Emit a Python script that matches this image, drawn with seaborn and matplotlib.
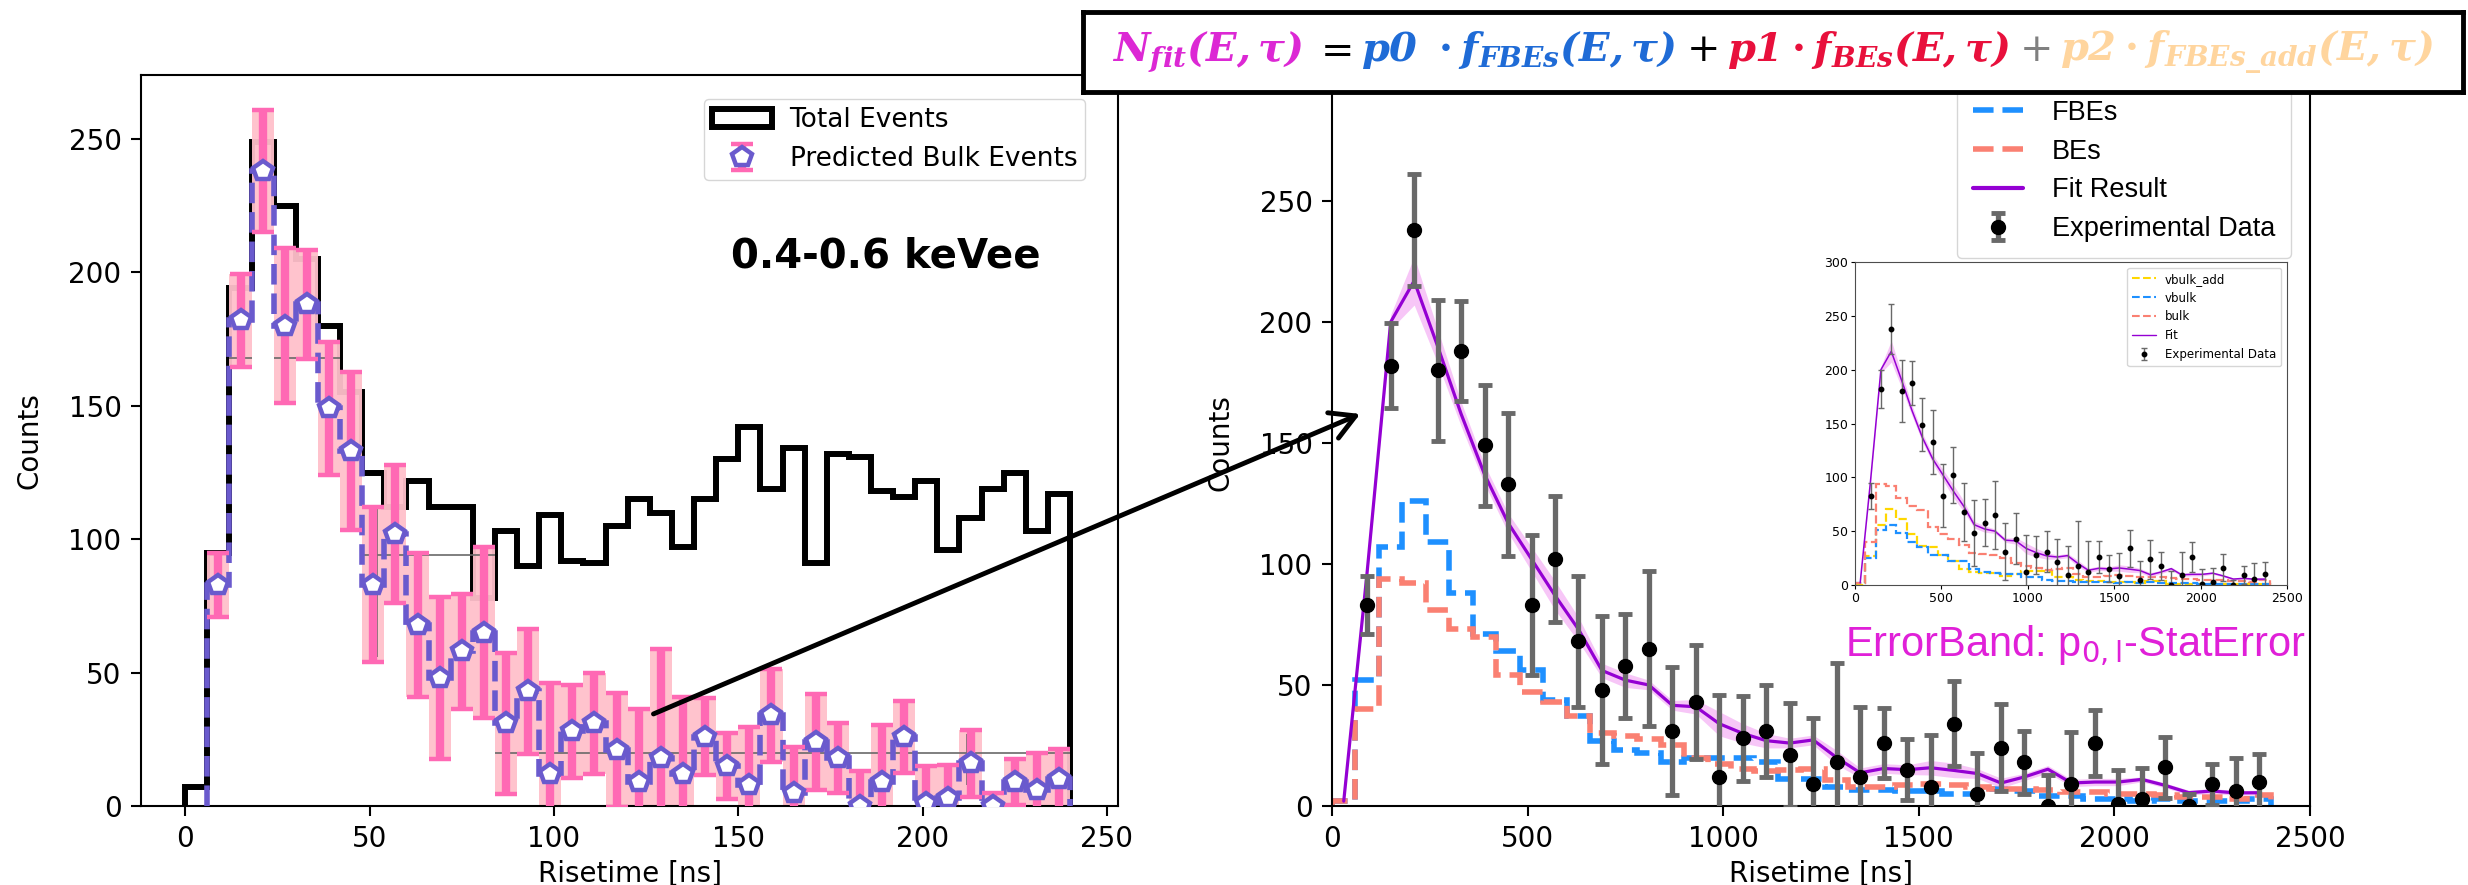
import numpy as np
import matplotlib
matplotlib.use('Agg')
import matplotlib.pyplot as plt
import seaborn as sns
from matplotlib.patches import Patch
from matplotlib.lines import Line2D
from matplotlib.offsetbox import TextArea, HPacker, AnchoredOffsetbox

sns.set_theme(style='ticks')
plt.rcParams['font.family'] = ['DejaVu Sans']
plt.rcParams['mathtext.fontset'] = 'dejavuserif'
plt.rcParams['axes.edgecolor'] = 'black'
plt.rcParams['text.color'] = 'black'
plt.rcParams['axes.labelcolor'] = 'black'
plt.rcParams['xtick.color'] = 'black'
plt.rcParams['ytick.color'] = 'black'

# ---- left panel: 0.4-0.6 keVee, risetime bins of 6
total_edges = np.arange(0, 241, 6)
total_counts = [7, 95, 194, 249, 225, 205, 180, 155, 125, 112, 122, 112, 112, 78, 103,
                90, 109, 92, 91, 105, 115, 110, 97, 115, 130, 142, 119, 134, 91, 132,
                131, 118, 116, 122, 96, 108, 119, 125, 103, 117]

bulk_edges = np.arange(6, 241, 6)
bulk_pred = [83, 182, 238, 180, 188, 149, 133, 83, 102, 68, 48, 58, 65, 31, 43, 12, 28,
             31, 21, 9, 18, 12, 26, 15, 8, 34, 5, 24, 18, 0, 9, 26, 1, 3, 16, 0, 9, 6, 10]
bulk_err = [12, 17.5, 23, 29, 20.5, 25, 29.5, 29, 26, 27, 30.5, 21.5, 32, 26.5, 23.5, 34,
            17.5, 19, 21.5, 27.5, 41, 29, 14.5, 12.5, 21.5, 17.5, 17, 18, 13, 13, 21.5,
            13.5, 14, 12.5, 12.5, 5, 8.5, 14, 11.5]

# thin grey reference levels behind the bulk prediction
coarse_level = [168, 168, 94, 20]
coarse_lo = [12, 24, 48, 84]
coarse_hi = [18, 42, 84, 240]
coarse_vx = [52, 212]
coarse_vlo = [56, 8]
coarse_vhi = [112, 27]

# ---- right panel: fit of the same data, risetime bins of 60 ns
fit_edges = np.arange(0, 2401, 60)
fbes = [2, 52, 107, 126, 109, 88, 71, 64, 56, 44, 37, 27, 23, 22, 18, 20, 20, 20, 18, 11,
        11, 8, 6.5, 6.5, 6, 6, 5, 5, 7, 6, 4, 4, 3, 3, 2, 3, 2, 2, 2, 3]
bes = [2, 40, 94, 92, 81, 73, 70, 54, 47, 43, 37, 30, 29, 27.5, 25, 20, 17.5, 15.4, 14.3,
       15, 15.4, 10.6, 7.8, 7.8, 8.5, 9.2, 8.5, 7.8, 7.2, 7.2, 6.5, 5.8, 5.8, 5, 5, 4.4,
       3.7, 3.7, 3, 4.4]
vbulk = [2, 25, 51, 56, 48, 40, 35, 28, 28, 22, 22, 15, 12, 11, 10, 10, 7, 7, 5, 4, 4, 3,
         3, 3, 3, 2, 3, 2, 3, 2, 2, 2, 2, 1, 1, 1, 1, 1, 1, 1]
vbulk_add = [0, 27, 56, 71, 61, 47, 36, 35, 28, 22, 15, 12, 11, 11, 8, 10, 13, 13, 13, 7,
             7, 5, 4, 4, 3, 3, 3, 2, 4, 4, 1, 1, 1, 1, 1, 1, 1, 1, 1, 1]

fit_x = np.arange(30, 2400, 60)
fit_y = [2, 97, 200, 217, 190, 162, 137, 117, 102, 87, 73, 56, 52, 50, 41.6, 41, 34, 30,
         27, 26, 27.3, 20, 13.7, 15.5, 15, 15.8, 14.7, 13.4, 9.5, 12, 15.2, 9.5, 9.9, 9.9,
         11, 8.5, 5.5, 6.2, 5.4, 5.5]
fit_band = [1, 3, 3, 10, 7, 5, 4, 4, 5, 6, 5, 3, 3, 2, 2, 3, 5, 4, 3, 2, 2, 3, 2, 2, 2, 3,
            3, 2, 2, 1.5, 1.5, 1.5, 1.5, 1.5, 1, 1, 1, 1, 1, 1]
data_x = np.arange(90, 2400, 60)

bulk_pred = np.array(bulk_pred, dtype=float)
bulk_err = np.array(bulk_err, dtype=float)
fit_y = np.array(fit_y)
fit_band = np.array(fit_band)

fig = plt.figure(figsize=(24.68, 8.85), dpi=100)

tick_kw = dict(labelsize=20, length=7, width=1.5, pad=7)

# ---------------- left panel
ax1 = fig.add_axes([0.05713, 0.08927, 0.39587, 0.82599])
ax1.stairs(total_counts, total_edges, color='black', lw=4.3, zorder=1)
centers = bulk_edges[:-1] + 3
ax1.bar(centers, 2 * bulk_err, bottom=bulk_pred - bulk_err, width=6, color='pink',
        alpha=0.95, linewidth=0, zorder=2)
ax1.hlines(coarse_level, coarse_lo, coarse_hi, color='dimgray', lw=1.2, zorder=2.5)
ax1.vlines(coarse_vx, coarse_vlo, coarse_vhi, color='dimgray', lw=1.2, zorder=2.5)
ax1.stairs(bulk_pred, bulk_edges, color='slateblue', lw=4, ls='--', zorder=4)
eb1 = ax1.errorbar(centers, bulk_pred, yerr=bulk_err, fmt='p', ms=15, mfc='white',
                   mec='slateblue', mew=3.2, ecolor='hotpink', elinewidth=6, capsize=8,
                   capthick=1.5, zorder=5)
ax1.set_xlim(-12, 253)
ax1.set_ylim(0, 274)
ax1.set_xticks(range(0, 251, 50))
ax1.set_yticks(range(0, 251, 50))
ax1.tick_params(**tick_kw)
for s in ax1.spines.values():
    s.set_linewidth(1.5)
ax1.set_xlabel('Risetime [ns]', fontsize=20, labelpad=5)
ax1.set_ylabel('Counts', fontsize=20, labelpad=18)
ax1.text(190, 206, '0.4-0.6 keVee', fontsize=29, fontweight='bold', ha='center', va='center')
ax1.legend([Patch(facecolor='none', edgecolor='black', lw=4.3), eb1],
           ['Total Events', 'Predicted Bulk Events'], loc='upper left',
           bbox_to_anchor=(0.576, 0.967), borderaxespad=0, fontsize=19,
           handlelength=2.3, handletextpad=0.65, borderpad=0.3)

# ---------------- right panel
ax2 = fig.add_axes([0.53971, 0.08927, 0.39627, 0.82034])
ax2.stairs(fbes, fit_edges, color='dodgerblue', lw=4, ls='--', zorder=2)
ax2.stairs(bes, fit_edges, color='salmon', lw=4, ls='--', zorder=2)
ax2.fill_between(fit_x, fit_y - fit_band, fit_y + fit_band, color='violet', alpha=0.45,
                 lw=0, zorder=3)
sns.lineplot(x=fit_x, y=fit_y, color='darkviolet', lw=2.3, ax=ax2, zorder=4, legend=False)
eb2 = ax2.errorbar(data_x, bulk_pred, yerr=bulk_err, fmt='o', color='black', ms=10,
                   ecolor='dimgray', elinewidth=3.8, capsize=5, capthick=3.5, zorder=5)
ax2.set_xlim(0, 2500)
ax2.set_ylim(0, 300)
ax2.set_xticks(range(0, 2501, 500))
ax2.set_yticks(range(0, 251, 50))
ax2.tick_params(**tick_kw)
for s in ax2.spines.values():
    s.set_linewidth(1.5)
ax2.set_xlabel('Risetime [ns]', fontsize=20, labelpad=5)
ax2.set_ylabel('Counts', fontsize=20, labelpad=18)
ax2.legend([Line2D([], [], color='dodgerblue', ls='--', lw=4),
            Line2D([], [], color='salmon', ls='--', lw=4),
            Line2D([], [], color='darkviolet', lw=3), eb2],
           ['FBEs', 'BEs', 'Fit Result', 'Experimental Data'], loc='upper left',
           bbox_to_anchor=(0.639, 0.995), borderaxespad=0,
           prop={'family': 'Liberation Sans', 'size': 19.5},
           handlelength=1.85, handletextpad=1.05, borderpad=0.6, labelspacing=0.47)
ax2.text(1311, 62, r'ErrorBand: p$_{\mathsf{0,l}}$-StatError', color='#e020d8', fontsize=30,
         family=['Liberation Sans', 'DejaVu Sans'], zorder=6)

ax2.annotate('', xy=(72, 162), xycoords='data', xytext=(127, 34.5),
             textcoords=ax1.transData,
             arrowprops=dict(arrowstyle='->,head_length=0.8,head_width=0.45', lw=3.5,
                             color='black', mutation_scale=22, shrinkA=0, shrinkB=0),
             zorder=7)

# ---------------- inset (original fit)
axi = fig.add_axes([0.75162, 0.33898, 0.17504, 0.36497], zorder=5)
axi.set_facecolor('white')
axi.stairs(vbulk_add, fit_edges, color='gold', lw=1.6, ls='--')
axi.stairs(vbulk, fit_edges, color='dodgerblue', lw=1.6, ls='--')
axi.stairs(bes, fit_edges, color='salmon', lw=1.6, ls='--')
axi.fill_between(fit_x, fit_y - fit_band, fit_y + fit_band, color='violet', alpha=0.45, lw=0)
sns.lineplot(x=fit_x, y=fit_y, color='darkviolet', lw=1.1, ax=axi, legend=False)
ebi = axi.errorbar(data_x, bulk_pred, yerr=bulk_err, fmt='o', color='black', ms=3.2,
                   ecolor='dimgray', elinewidth=1, capsize=2, capthick=1)
axi.set_xlim(0, 2500)
axi.set_ylim(0, 300)
axi.set_xticks(range(0, 2501, 500))
axi.set_yticks(range(0, 301, 50))
axi.tick_params(labelsize=9, length=3, width=0.8, pad=2)
for s in axi.spines.values():
    s.set_linewidth(0.8)
    s.set_color('0.3')
axi.legend([Line2D([], [], color='gold', ls='--', lw=1.5),
            Line2D([], [], color='dodgerblue', ls='--', lw=1.5),
            Line2D([], [], color='salmon', ls='--', lw=1.5),
            Line2D([], [], color='darkviolet', lw=1), ebi],
           ['vbulk_add', 'vbulk', 'bulk', 'Fit', 'Experimental Data'],
           loc='upper right', fontsize=8.5)

# ---------------- formula box
axb = fig.add_axes([0.43882, 0.89605, 0.55916, 0.0904], zorder=10)
axb.set_xticks([])
axb.set_yticks([])
axb.set_facecolor('white')
for s in axb.spines.values():
    s.set_linewidth(3.5)
    s.set_color('black')
pieces = [
    (r'$\mathbfit{N_{fit}(E,\tau)}$', '#dc28d4'),
    (r'$=$', 'black'),
    (r'$\mathbfit{p0\ \cdot f_{FBEs}(E,\tau)}$', '#1f6bd6'),
    (r'$+$', 'black'),
    (r'$\mathbfit{p1\cdot f_{BEs}(E,\tau)}$', '#e8103c'),
    (r'$+$', 'gray'),
    (r'$\mathbfit{p2\cdot f_{FBEs\_add}(E,\tau)}$', '#ffd59e'),
]
hp = HPacker(children=[TextArea(t, textprops=dict(color=c, fontsize=28.8)) for t, c in pieces],
             sep=7, align='baseline')
axb.add_artist(AnchoredOffsetbox(loc='center', child=hp, frameon=False, pad=0, borderpad=0))

fig.savefig('out.png', dpi=100)
